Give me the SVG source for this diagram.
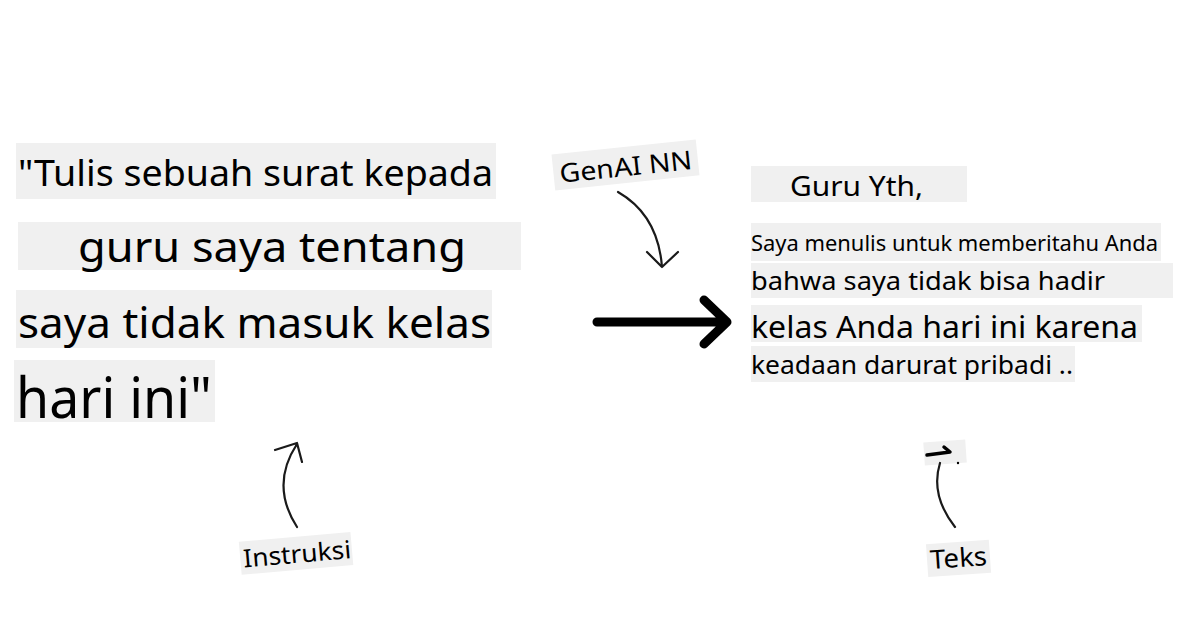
<svg xmlns="http://www.w3.org/2000/svg" width="1200" height="628" viewBox="0 0 1200 628">
<style>
.bg{fill:#f0f0f0}
.t{font-family:"Noto Sans","Open Sans",sans-serif;fill:#000}
.thin{fill:none;stroke:#1a1a1a;stroke-width:2.2;stroke-linecap:round;stroke-linejoin:round}
.thick{fill:none;stroke:#000;stroke-width:9;stroke-linecap:round;stroke-linejoin:round}
</style>
<rect width="1200" height="628" fill="#fff"/>
<g id="prompt">
<rect class="bg" x="16" y="143" width="480" height="56"/>
<text class="t" x="18" y="186" font-size="37" textLength="475" lengthAdjust="spacingAndGlyphs">"Tulis sebuah surat kepada</text>
<rect class="bg" x="18" y="222" width="503" height="48"/>
<text class="t" x="78" y="262" font-size="41" textLength="388" lengthAdjust="spacingAndGlyphs">guru saya tentang</text>
<rect class="bg" x="16" y="290" width="476" height="58"/>
<text class="t" x="18" y="338" font-size="42" textLength="473" lengthAdjust="spacingAndGlyphs">saya tidak masuk kelas</text>
<rect class="bg" x="14" y="360" width="201" height="62"/>
<text class="t" x="16" y="418" font-size="56" textLength="196" lengthAdjust="spacingAndGlyphs">hari ini"</text>
</g>
<g id="genai">
<g transform="rotate(-6 625 165)">
<rect class="bg" x="553" y="147" width="145" height="36"/>
<text class="t" x="559" y="176" font-size="26" textLength="133" lengthAdjust="spacingAndGlyphs">GenAI NN</text>
</g>
</g>
<g id="letter">
<rect class="bg" x="751" y="166" width="216" height="36"/>
<text class="t" x="790" y="196" font-size="27" textLength="133" lengthAdjust="spacingAndGlyphs">Guru Yth,</text>
<rect class="bg" x="751" y="223" width="410" height="38"/>
<text class="t" x="751" y="251" font-size="22" textLength="407" lengthAdjust="spacingAndGlyphs">Saya menulis untuk memberitahu Anda</text>
<rect class="bg" x="751" y="263" width="422" height="35"/>
<text class="t" x="751" y="290" font-size="26" textLength="354" lengthAdjust="spacingAndGlyphs">bahwa saya tidak bisa hadir</text>
<rect class="bg" x="751" y="305" width="391" height="37"/>
<text class="t" x="751" y="338" font-size="31" textLength="387" lengthAdjust="spacingAndGlyphs">kelas Anda hari ini karena</text>
<rect class="bg" x="751" y="346" width="324" height="36"/>
<text class="t" x="751" y="374" font-size="26" textLength="322" lengthAdjust="spacingAndGlyphs">keadaan darurat pribadi ..</text>
</g>
<g id="instruksi">
<g transform="rotate(-5 295 553)">
<rect class="bg" x="240" y="537" width="112" height="33"/>
<text class="t" x="243" y="563" font-size="25" textLength="108" lengthAdjust="spacingAndGlyphs">Instruksi</text>
</g>
</g>
<g id="teks">
<g transform="rotate(-4 958 558)">
<rect class="bg" x="927" y="542" width="63" height="33"/>
<text class="t" x="930" y="567" font-size="26" textLength="57" lengthAdjust="spacingAndGlyphs">Teks</text>
</g>
<g transform="rotate(-4 945 452)">
<rect class="bg" x="924" y="441" width="42" height="23"/>
</g>
<path d="M927 455 L950 452 L944 447" fill="none" stroke="#000" stroke-width="3.5" stroke-linecap="round" stroke-linejoin="round"/>
<circle cx="958" cy="463" r="1.2" fill="#000"/>
</g>
<g id="connectors">
<path class="thick" d="M597 322 L726 322 M704 300 L727 322 L704 344"/>
<path class="thin" d="M618 192 Q658 215 662 267 M647 252 L662 267 L678 252"/>
<path class="thin" d="M297 527 Q270 485 297 444 M275 450 L297 443 L302 462"/>
<path class="thin" d="M955 527 Q930 495 940 463"/>
</g>
</svg>
